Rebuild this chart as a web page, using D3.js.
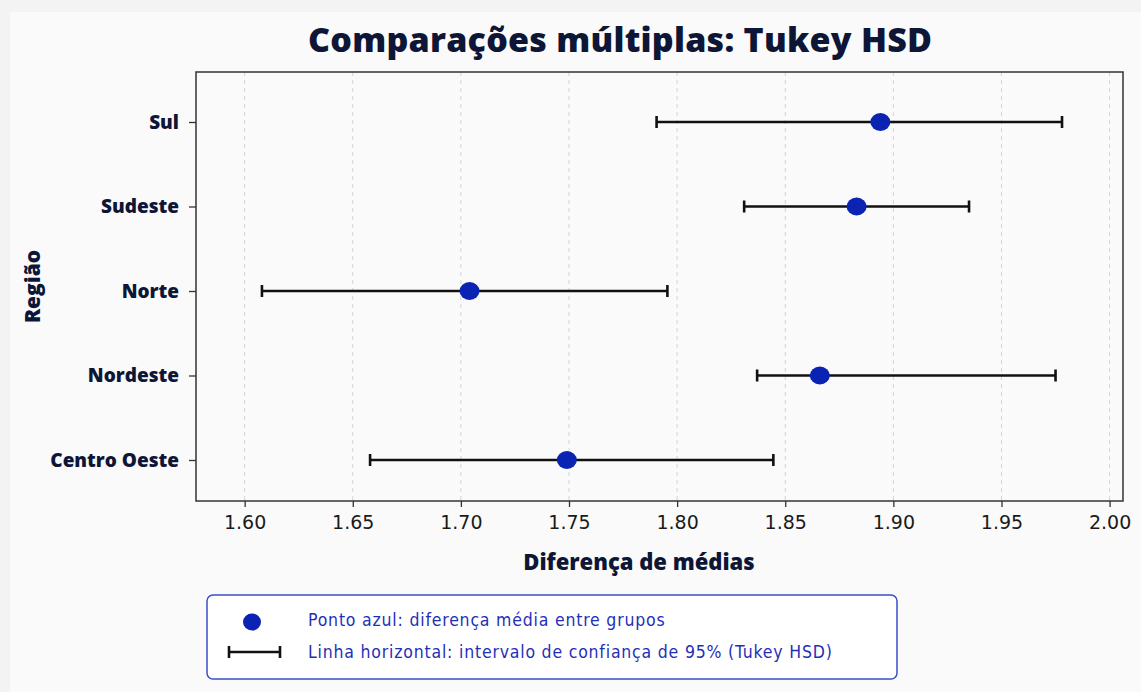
<!DOCTYPE html>
<html>
<head>
<meta charset="utf-8">
<script src="https://cdn.jsdelivr.net/npm/d3@7"></script>
<style>
  body { margin: 0; background: #f3f3f3; }
  svg { display: block; }
</style>
</head>
<body>
<div id="chart"></div>
<script>
// data
var regions = ["Sul", "Sudeste", "Norte", "Nordeste", "Centro Oeste"];
var meanDiff = [1.894, 1.883, 1.704, 1.866, 1.749];
var ciLower  = [1.7905, 1.831, 1.608, 1.837, 1.658];
var ciUpper  = [1.978, 1.935, 1.7955, 1.975, 1.8445];
var xTicks   = [1.60, 1.65, 1.70, 1.75, 1.80, 1.85, 1.90, 1.95, 2.00];
var legendLabels = [
  "Ponto azul: diferença média entre grupos",
  "Linha horizontal: intervalo de confiança de 95% (Tukey HSD)"
];

var W = 1141, H = 692;
var margin = {top: 72, right: 18, bottom: 191, left: 196};
var width = W - margin.left - margin.right;
var height = H - margin.top - margin.bottom;
var navy = "#0d1636";
var blue = "#0a23b3";
var boldFont = "'Open Sans', Lato, sans-serif";

var data = regions.map(function(r, i) {
  return {region: r, mean: meanDiff[i], lo: ciLower[i], hi: ciUpper[i]};
});

var svg = d3.select("#chart").append("svg")
  .attr("width", W)
  .attr("height", H);

// light panel
svg.append("rect")
  .attr("x", 10).attr("y", 12)
  .attr("width", W - 10).attr("height", H - 12)
  .attr("fill", "#fafafa");

svg.append("text")
  .attr("x", 620)
  .attr("y", 52)
  .attr("text-anchor", "middle")
  .attr("textLength", 624)
  .attr("lengthAdjust", "spacing")
  .style("font-family", boldFont)
  .style("font-weight", "800")
  .style("font-size", "34px")
  .attr("fill", navy)
  .text("Comparações múltiplas: Tukey HSD");

var g = svg.append("g")
  .attr("transform", "translate(" + margin.left + "," + margin.top + ")");

var x = d3.scaleLinear()
  .domain([1.5775, 2.0062])
  .range([0, width]);

var y = d3.scalePoint()
  .domain(regions)
  .range([50, height - 41]);

// grid
g.selectAll(".grid")
  .data(xTicks)
  .enter()
  .append("line")
    .attr("x1", function(d) { return x(d); })
    .attr("x2", function(d) { return x(d); })
    .attr("y1", 0)
    .attr("y2", height)
    .attr("stroke", "#d4d4d4")
    .attr("stroke-width", 1)
    .attr("stroke-dasharray", "4,4");

// frame
g.append("rect")
  .attr("width", width)
  .attr("height", height)
  .attr("fill", "none")
  .attr("stroke", "#333")
  .attr("stroke-width", 1.5);

var xAxis = g.append("g")
  .attr("transform", "translate(0," + height + ")")
  .call(d3.axisBottom(x).tickValues(xTicks).tickFormat(d3.format(".2f")).tickSize(6).tickPadding(9));
xAxis.select(".domain").remove();
xAxis.selectAll("line").attr("stroke", "#333").attr("stroke-width", 1.3);
xAxis.selectAll("text")
  .style("font-family", "'DejaVu Sans', sans-serif")
  .style("font-size", "19px")
  .attr("fill", "#1a1a1a");

var yAxis = g.append("g")
  .call(d3.axisLeft(y).tickSize(7).tickPadding(10));
yAxis.select(".domain").remove();
yAxis.selectAll("line").attr("stroke", "#333").attr("stroke-width", 1.3);
yAxis.selectAll("text")
  .style("font-family", boldFont)
  .style("font-weight", "800")
  .style("font-size", "19px")
  .attr("fill", navy);

// axis titles
svg.append("text")
  .attr("x", 639)
  .attr("y", 570)
  .attr("text-anchor", "middle")
  .style("font-family", boldFont)
  .style("font-weight", "800")
  .style("font-size", "22px")
  .attr("fill", navy)
  .text("Diferença de médias");

svg.append("text")
  .attr("transform", "translate(40," + (margin.top + height / 2) + ") rotate(-90)")
  .attr("text-anchor", "middle")
  .style("font-family", boldFont)
  .style("font-weight", "800")
  .style("font-size", "21px")
  .attr("fill", navy)
  .text("Região");

// error bars
var rows = g.selectAll(".row")
  .data(data)
  .enter()
  .append("g")
  .attr("transform", function(d) { return "translate(0," + y(d.region) + ")"; });

rows.append("line")
  .attr("x1", function(d) { return x(d.lo); })
  .attr("x2", function(d) { return x(d.hi); })
  .attr("stroke", "#111")
  .attr("stroke-width", 2.6);

rows.selectAll(".cap")
  .data(function(d) { return [d.lo, d.hi]; })
  .enter()
  .append("line")
    .attr("x1", function(v) { return x(v); })
    .attr("x2", function(v) { return x(v); })
    .attr("y1", -6)
    .attr("y2", 6)
    .attr("stroke", "#111")
    .attr("stroke-width", 2.6);

rows.append("ellipse")
  .attr("cx", function(d) { return x(d.mean); })
  .attr("rx", 10)
  .attr("ry", 9)
  .attr("fill", blue);

// legend
var leg = svg.append("g");
leg.append("rect")
  .attr("x", 207).attr("y", 595)
  .attr("width", 690).attr("height", 84)
  .attr("rx", 6)
  .attr("fill", "#fff")
  .attr("stroke", "#3b4fc9")
  .attr("stroke-width", 1.5);

leg.append("ellipse")
  .attr("cx", 252).attr("cy", 622)
  .attr("rx", 9).attr("ry", 8.5)
  .attr("fill", blue);

leg.append("line")
  .attr("x1", 229).attr("x2", 280)
  .attr("y1", 652).attr("y2", 652)
  .attr("stroke", "#111").attr("stroke-width", 2.6);
[229, 280].forEach(function(px) {
  leg.append("line")
    .attr("x1", px).attr("x2", px)
    .attr("y1", 646).attr("y2", 658)
    .attr("stroke", "#111").attr("stroke-width", 2.6);
});

leg.selectAll(".lt")
  .data(legendLabels)
  .enter()
  .append("text")
    .attr("x", 308)
    .attr("y", function(d, i) { return 626 + i * 32; })
    .style("font-family", "'DejaVu Sans Condensed', 'DejaVu Sans', sans-serif")
    .style("font-stretch", "condensed")
    .style("font-size", "17.5px")
    .style("letter-spacing", "0.8px")
    .attr("fill", "#1f2fb8")
    .text(function(d) { return d; });
</script>
</body>
</html>
